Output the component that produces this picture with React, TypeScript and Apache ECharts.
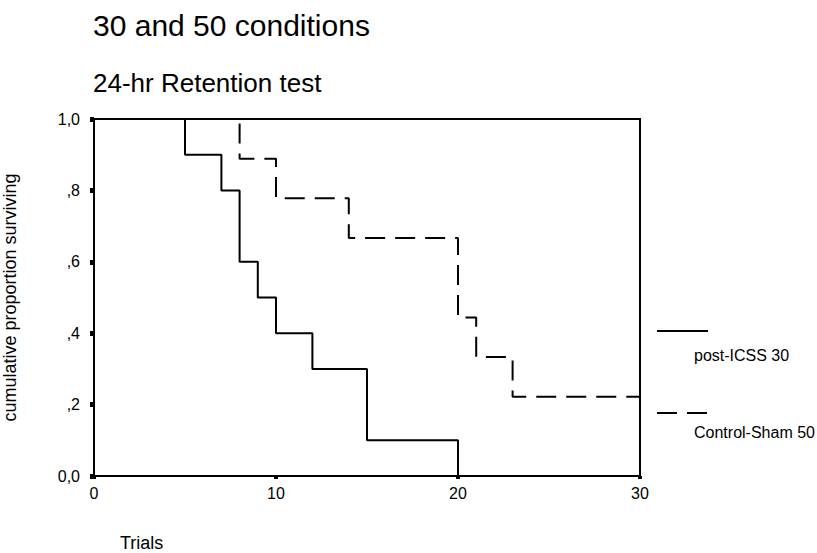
import React, { useEffect, useRef } from "react";
import * as echarts from "echarts";

const titleText = "30 and 50 conditions";
const subtitleText = "24-hr Retention test";
const xAxisName = "Trials";
const yAxisName = "cumulative proportion surviving";
const xTicks = [0, 10, 20, 30];
const yTickLabels: Record<string, string> = { "0": "0,0", "0.2": ",2", "0.4": ",4", "0.6": ",6", "0.8": ",8", "1": "1,0" };
const seriesNames = ["post-ICSS 30", "Control-Sham 50"];
const icssTrials = [0, 5, 7, 8, 9, 10, 12, 15, 20];
const icssSurv = [1, 0.9, 0.8, 0.6, 0.5, 0.4, 0.3, 0.1, 0];
const shamTrials = [0, 8, 10, 14, 20, 21, 23, 30];
const shamSurv = [1, 0.889, 0.778, 0.667, 0.444, 0.333, 0.222, 0.222];

const FONT = "Liberation Sans";

export default function App() {
  const ref = useRef<HTMLDivElement>(null);
  useEffect(() => {
    const chart = echarts.init(ref.current!, null, { renderer: "svg" });
    chart.setOption({
      animation: false,
      backgroundColor: "#fff",
      textStyle: { fontFamily: FONT, color: "#000" },
      title: [
        { text: titleText, left: 88, top: 5, textStyle: { fontFamily: FONT, fontSize: 30, fontWeight: "normal", color: "#000" } },
        { text: subtitleText, left: 88, top: 65, textStyle: { fontFamily: FONT, fontSize: 26, fontWeight: "normal", color: "#000" } },
      ],
      grid: {
        left: 94, top: 119, right: 177, bottom: 77,
        containLabel: false,
        outerBoundsMode: "none",
        show: true, borderColor: "#000", borderWidth: 2, backgroundColor: "transparent",
      },
      xAxis: {
        type: "value",
        min: 0,
        max: 30,
        interval: 10,
        axisLine: { show: true, lineStyle: { color: "#000", width: 2 } },
        axisTick: { show: true, length: 3, lineStyle: { color: "#000", width: 4 } },
        axisLabel: { color: "#000", fontSize: 16, fontFamily: FONT, margin: 9, formatter: (v: number) => (xTicks.includes(v) ? String(v) : "") },
        splitLine: { show: false },
      },
      yAxis: {
        type: "value",
        min: 0,
        max: 1,
        interval: 0.2,
        name: yAxisName,
        nameLocation: "middle",
        nameGap: 75,
        nameTextStyle: { fontSize: 18, fontFamily: FONT, color: "#000" },
        axisLine: { show: true, lineStyle: { color: "#000", width: 2 } },
        axisTick: { show: true, length: 4, lineStyle: { color: "#000", width: 5 } },
        axisLabel: { color: "#000", fontSize: 16, fontFamily: FONT, margin: 14, formatter: (v: number) => yTickLabels[String(Math.round(v * 10) / 10)] ?? "" },
        splitLine: { show: false },
      },
      series: [
        {
          name: seriesNames[0],
          type: "line",
          step: "end",
          symbol: "none",
          lineStyle: { color: "#000", width: 2, type: "solid" },
          data: icssTrials.map((t, i) => [t, icssSurv[i]]),
        },
        {
          name: seriesNames[1],
          type: "line",
          step: "end",
          symbol: "none",
          lineStyle: { color: "#000", width: 2, type: [20, 10] },
          data: shamTrials.map((t, i) => [t, shamSurv[i]]),
        },
      ],
      graphic: [
        { type: "line", shape: { x1: 657, y1: 331, x2: 708, y2: 331 }, style: { stroke: "#000", lineWidth: 2 } },
        { type: "text", x: 694, y: 355, style: { text: seriesNames[0], fontSize: 16, fontFamily: FONT, fill: "#000", verticalAlign: "middle" } },
        { type: "line", shape: { x1: 657, y1: 413, x2: 708, y2: 413 }, style: { stroke: "#000", lineWidth: 2, lineDash: [20, 10] } },
        { type: "text", x: 694, y: 432, style: { text: seriesNames[1], fontSize: 16, fontFamily: FONT, fill: "#000", verticalAlign: "middle" } },
        { type: "text", x: 120, y: 543, style: { text: xAxisName, fontSize: 18, fontFamily: FONT, fill: "#000", verticalAlign: "middle" } },
      ],
    });
    return () => chart.dispose();
  }, []);
  return <div ref={ref} style={{ width: 817, height: 553, position: "absolute", left: 0, top: 0 }} />;
}
